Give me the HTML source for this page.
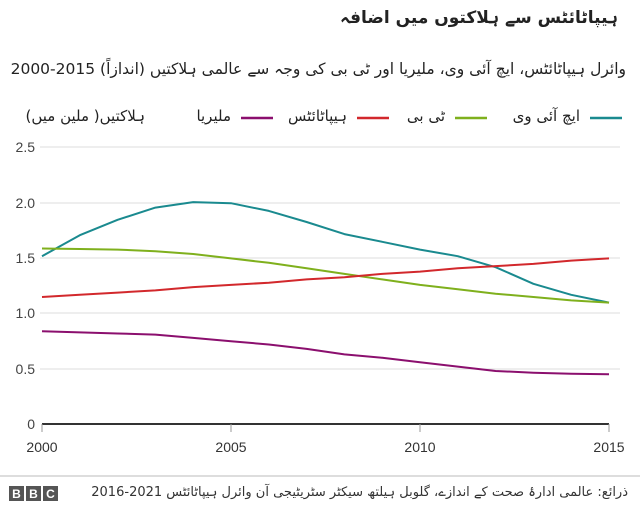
<!DOCTYPE html>
<html><head><meta charset="utf-8"><style>
body{margin:0;background:#fff;width:640px;height:512px;overflow:hidden;font-family:"Liberation Sans","DejaVu Sans",sans-serif;position:relative;}
svg text{font-family:"Liberation Sans","DejaVu Sans",sans-serif;}
.u{position:absolute;direction:rtl;white-space:nowrap;color:#222;font-family:"DejaVu Sans","Liberation Sans",sans-serif;line-height:1;}
</style></head><body>
<svg width="640" height="512" xmlns="http://www.w3.org/2000/svg" style="position:absolute;left:0;top:0">
<line x1="590" y1="118" x2="622" y2="118" stroke="#1a8a8f" stroke-width="2.5"/>
<line x1="455" y1="118" x2="487" y2="118" stroke="#7fb01d" stroke-width="2.5"/>
<line x1="357" y1="118" x2="389" y2="118" stroke="#d2282c" stroke-width="2.5"/>
<line x1="241" y1="118" x2="273" y2="118" stroke="#8b0f6e" stroke-width="2.5"/>
<g stroke="#ddd" stroke-width="1">
<line x1="40" y1="147" x2="620" y2="147"/>
<line x1="40" y1="203" x2="620" y2="203"/>
<line x1="40" y1="258" x2="620" y2="258"/>
<line x1="40" y1="313" x2="620" y2="313"/>
<line x1="40" y1="369" x2="620" y2="369"/>
</g>
<g font-size="14" fill="#444" text-anchor="end">
<text x="35" y="152">2.5</text><text x="35" y="208">2.0</text><text x="35" y="263">1.5</text><text x="35" y="318">1.0</text><text x="35" y="374">0.5</text><text x="35" y="429">0</text>
</g>
<line x1="42" y1="424" x2="609" y2="424" stroke="#333" stroke-width="2"/>
<g stroke="#999"><line x1="42" y1="424" x2="42" y2="432"/><line x1="231" y1="424" x2="231" y2="432"/><line x1="420" y1="424" x2="420" y2="432"/><line x1="609" y1="424" x2="609" y2="432"/></g>
<g font-size="14" fill="#333" text-anchor="middle">
<text x="42" y="452">2000</text><text x="231" y="452">2005</text><text x="420" y="452">2010</text><text x="609" y="452">2015</text>
</g>
<g id="series" fill="none" stroke-width="2" stroke-linejoin="round"></g>
<line x1="0" y1="476" x2="640" y2="476" stroke="#bbb"/>
<g>
<rect x="9" y="486" width="15" height="15" fill="#555"/><rect x="26" y="486" width="15" height="15" fill="#555"/><rect x="43" y="486" width="15" height="15" fill="#555"/>
<text x="16.5" y="498" font-size="12" font-weight="bold" fill="#fff" text-anchor="middle">B</text>
<text x="33.5" y="498" font-size="12" font-weight="bold" fill="#fff" text-anchor="middle">B</text>
<text x="50.5" y="498" font-size="12" font-weight="bold" fill="#fff" text-anchor="middle">C</text>
</g>
</svg>
<div class="u" style="right:22px;top:10px;font-size:17px;font-weight:bold;">ہیپاٹائٹس سے ہلاکتوں میں اضافہ</div>
<div class="u" style="right:14px;top:62px;font-size:15.5px;">وائرل ہیپاٹائٹس، ایچ آئی وی، ملیریا اور ٹی بی کی وجہ سے عالمی ہلاکتیں (اندازاً) 2015-2000</div>
<div class="u" style="right:60px;top:109px;font-size:15px;">ایچ آئی وی</div>
<div class="u" style="right:195px;top:109px;font-size:15px;">ٹی بی</div>
<div class="u" style="right:293px;top:109px;font-size:15px;">ہیپاٹائٹس</div>
<div class="u" style="right:409px;top:109px;font-size:15px;">ملیریا</div>
<div class="u" style="right:495px;top:109px;font-size:15px;">ہلاکتیں( ملین میں)</div>
<div class="u" style="right:12px;top:486px;font-size:13px;color:#333;">ذرائع: عالمی ادارۂ صحت کے اندازے، گلوبل ہیلتھ سیکٹر سٹریٹیجی آن وائرل ہیپاٹائٹس 2021-2016</div>
<script>
var S=[
["#1a8a8f",[1.52,1.71,1.85,1.96,2.01,2.0,1.93,1.83,1.72,1.65,1.58,1.52,1.42,1.27,1.17,1.1]],
["#7fb01d",[1.59,1.585,1.58,1.565,1.54,1.5,1.46,1.41,1.36,1.31,1.26,1.22,1.18,1.15,1.12,1.1]],
["#d2282c",[1.15,1.17,1.19,1.21,1.24,1.26,1.28,1.31,1.33,1.36,1.38,1.41,1.43,1.45,1.48,1.5]],
["#8b0f6e",[0.84,0.83,0.82,0.81,0.78,0.75,0.72,0.68,0.63,0.60,0.56,0.52,0.48,0.465,0.455,0.45]]];
var g=document.getElementById('series');
S.forEach(function(s){var d='';s[1].forEach(function(v,i){var x=42+37.8*i,y=424-110.4*v;d+=(i?' L':'M')+x.toFixed(1)+' '+y.toFixed(1);});
var p=document.createElementNS('http://www.w3.org/2000/svg','path');p.setAttribute('d',d);p.setAttribute('stroke',s[0]);g.appendChild(p);});
</script>
</body></html>
